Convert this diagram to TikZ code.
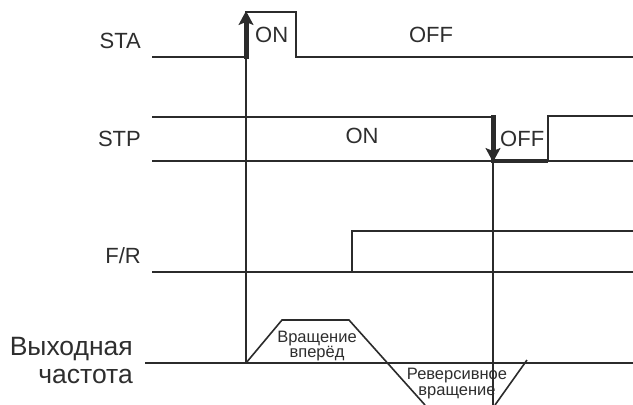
\documentclass[tikz,border=0pt]{standalone}
\usepackage{fontspec}
\setmainfont{Liberation Sans}
\usetikzlibrary{arrows.meta}
\definecolor{ink}{HTML}{2B2B2B}
\definecolor{txt}{HTML}{2E2E2E}
\tikzset{
  sig/.style={draw=ink, line width=1.6pt, line join=miter},
  thick sig/.style={draw=ink, line width=4.5pt},
  shaft/.style={draw=ink, line width=5pt},
  edge arrow/.style={draw=ink, line width=1.6pt, -{Stealth[length=14pt,width=15pt,inset=3pt]}},
  lbl/.style={text=txt, font=\fontsize{22}{24}\selectfont, inner sep=0pt},
  biglbl/.style={text=txt, font=\fontsize{26.5}{28}\selectfont, inner sep=0pt},
  small/.style={text=txt, font=\fontsize{16.5}{18}\selectfont, inner sep=0pt},
}
\begin{document}
\begin{tikzpicture}[x=1pt,y=-1pt]
\path[use as bounding box, fill=white] (0,0) rectangle (633,405);
% labels
\node[lbl, anchor=base east] (lsta) at (141,48) {STA};
\node[lbl, anchor=base east] (lstp) at (141,146) {STP};
\node[lbl, anchor=base east] (lfr) at (141,263) {F/R};
\node[biglbl, anchor=base east] (lf1) at (133,355) {Выходная};
\node[biglbl, anchor=base east] (lf2) at (133,383) {частота};
% coordinates
\coordinate (t1top) at (246,11);
\coordinate (t1low) at (246,57);
\coordinate (t2top) at (493,117);
\coordinate (t2low) at (493,162);
% STA
\path[sig] (152,57) -- (t1low);
\path[sig] (246,12) -- (296,12) -- (296,57) -- (633,57);
\node[lbl, anchor=base west] (ston) at (255,42) {ON};
\node[lbl, anchor=base] (stoff) at (431,42) {OFF};
% STP
\path[sig] (152,117) -- (t2top);
\path[sig] (152,161) -- (633,161);
\path[thick sig] (491,161) -- (548,161);
\path[sig] (548,161) -- (548,116) -- (633,116);
\node[lbl, anchor=base] (spon) at (362,143) {ON};
\node[lbl, anchor=base west] (spoff) at (500,146) {OFF};
% F/R
\path[sig] (152,272) -- (352,272) -- (352,231) -- (633,231);
\path[sig] (352,272) -- (633,272);
% frequency
\path[sig] (145,363) -- (633,363);
\path[sig] (246,363) -- (282,320) -- (349,320) -- (425,405);
\path[sig] (495,405) -- (527,360);
\node[small, anchor=base] (fw1) at (317,342) {Вращение};
\node[small, anchor=base] (fw2) at (317,357) {вперёд};
\node[small, anchor=base] (rv1) at (457,379) {Реверсивное};
\node[small, anchor=base] (rv2) at (457,395) {вращение};
% vertical time markers
\path[sig] (t1top) -- (246,363);
\path[sig] (t2top) -- (493,405);
% arrows: thick shafts, then heads
\path[shaft] (246,59) -- (246,20);
\path[shaft] (493,115) -- (493,152);
\path[edge arrow] (t1low) -- (t1top);
\path[edge arrow] (t2top) -- (t2low);
\end{tikzpicture}
\end{document}
